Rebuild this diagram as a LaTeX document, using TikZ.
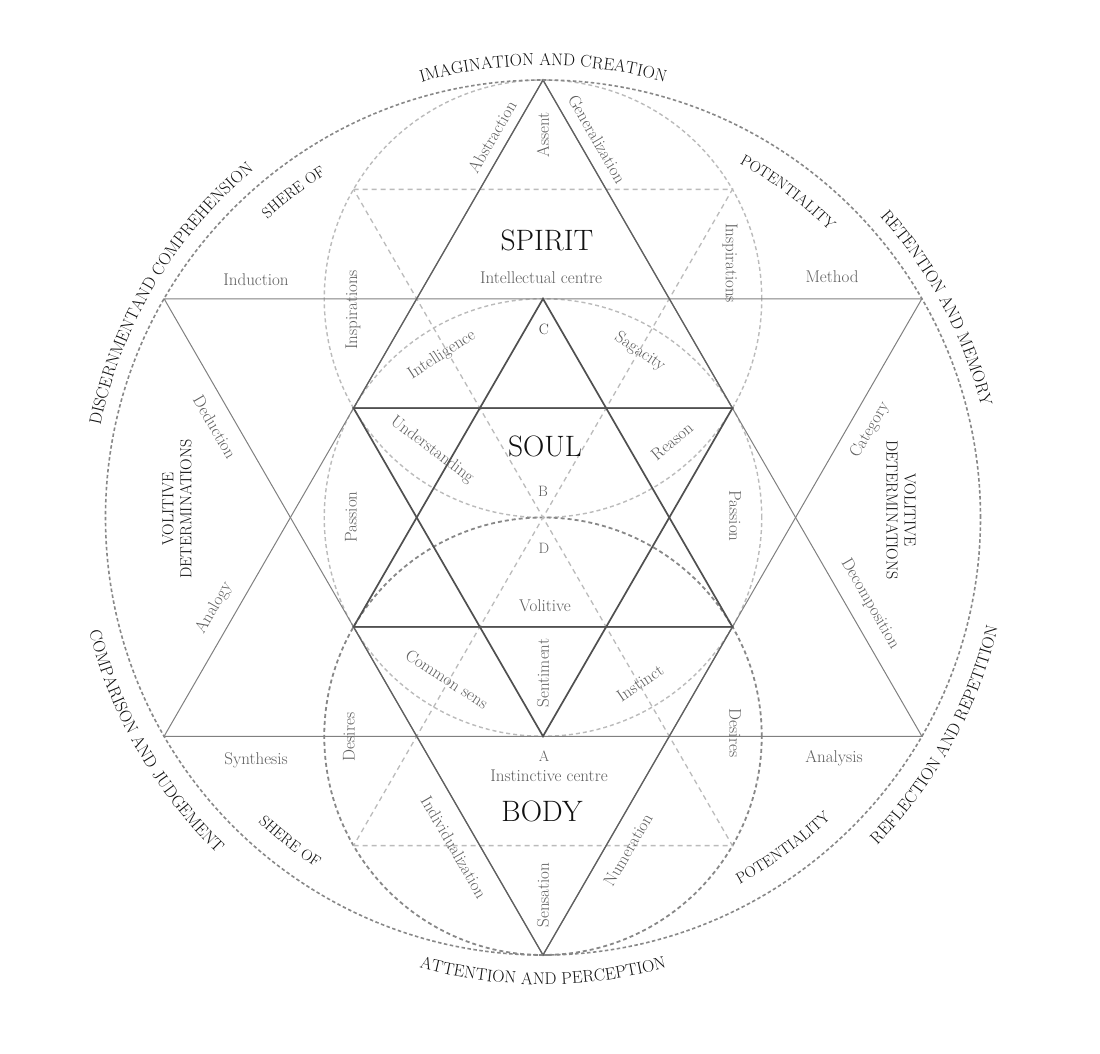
\documentclass[tikz,border=0pt]{standalone}
\usepackage{fontspec}
\usepackage{tikz}
\usetikzlibrary{decorations.text}
\definecolor{inkGray}{HTML}{5E5E5E}
\definecolor{lineGray}{HTML}{808080}
\definecolor{darkLine}{HTML}{505050}
\definecolor{ringGray}{HTML}{888888}
\definecolor{paleGray}{HTML}{BBBBBB}
\definecolor{capsBlack}{HTML}{111111}
\newcommand{\ringfont}{\fontsize{17}{19}\selectfont\color{capsBlack}}
\newcommand{\innerringfont}{\fontsize{15.5}{17}\selectfont\color{capsBlack}}

\begin{document}
\begin{tikzpicture}[x=1pt, y=1pt]
  \tikzset{
    bigstar/.style={draw=lineGray, line width=1pt},
    tristroke/.style={draw=darkLine!90, line width=1.3pt},
    soulstar/.style={draw=darkLine, line width=1.7pt},
    outerring/.style={draw=ringGray, line width=1.6pt, dash pattern=on 3.5pt off 2.5pt},
    palering/.style={draw=paleGray, line width=1.4pt, dash pattern=on 4pt off 3pt},
    bodyring/.style={draw=ringGray, line width=1.8pt, dash pattern=on 4pt off 3pt},
    paletri/.style={draw=paleGray, line width=1.3pt, dash pattern=on 5pt off 4pt},
    word/.style={text=inkGray, font=\fontsize{17}{19}\selectfont, inner sep=0pt},
    centreword/.style={text=capsBlack, font=\fontsize{29.5}{32}\selectfont, inner sep=0pt},
    vertexletter/.style={text=inkGray, font=\fontsize{15}{17}\selectfont, inner sep=0pt},
    volword/.style={text=capsBlack, font=\fontsize{16}{18}\selectfont, align=center, inner sep=0pt},
    ringtext/.style={decorate, decoration={text along path, text align=center, text={|\ringfont|#1}}},
    innerringtext/.style={decorate, decoration={text along path, text align=center, text={|\innerringfont|#1}}},
  }
  % Canvas: 1pt per pixel, origin at the centre of the great circle
  \useasboundingbox[fill=white] (-543,-535.5) rectangle (557,517.5);

  % Points of the figure
  \coordinate (O) at (0,0);
  \coordinate (top) at (90:437.5);
  \coordinate (bot) at (270:437.5);
  \coordinate (upl) at (150:437.5);
  \coordinate (upr) at (30:437.5);
  \coordinate (lol) at (210:437.5);
  \coordinate (lor) at (330:437.5);
  \coordinate (C) at (90:218.75);
  \coordinate (A) at (270:218.75);
  \coordinate (hul) at (150:218.75);
  \coordinate (hur) at (30:218.75);
  \coordinate (hll) at (210:218.75);
  \coordinate (hlr) at (330:218.75);
  \coordinate (spiritc) at (0,218.75);
  \coordinate (bodyc) at (0,-218.75);
  \coordinate (spl) at (-189.44,328.13);
  \coordinate (spr) at (189.44,328.13);
  \coordinate (bdl) at (-189.44,-328.13);
  \coordinate (bdr) at (189.44,-328.13);

  % Dashed circles and dashed triangles
  \draw[palering] (O) circle[radius=218.75];
  \draw[palering] (spiritc) circle[radius=218.75];
  \draw[bodyring] (bodyc) circle[radius=218.75];
  \draw[paletri] (spl) -- (spr) -- (O) -- cycle;
  \draw[paletri] (bdl) -- (bdr) -- (O) -- cycle;

  % Great star
  \draw[bigstar] (top) -- (lol) -- (lor) -- cycle;
  \draw[bigstar] (bot) -- (upl) -- (upr) -- cycle;

  % Spirit and body triangles
  \draw[tristroke] (top) -- (hul) -- (hur) -- cycle;
  \draw[tristroke] (bot) -- (hll) -- (hlr) -- cycle;

  % Soul star
  \draw[soulstar] (C) -- (hll) -- (hlr) -- cycle;
  \draw[soulstar] (A) -- (hul) -- (hur) -- cycle;

  % Great circle
  \draw[outerring] (O) circle[radius=437.5];

  % Texts round the circle
  \path[ringtext={IMAGINATION AND CREATION}] (125:452) arc[start angle=125, end angle=55, radius=452];
  \path[ringtext={DISCERNMENTAND COMPREHENSION}] (186:452) arc[start angle=186, end angle=112, radius=452];
  \path[ringtext={RETENTION AND MEMORY}] (63:452) arc[start angle=63, end angle=-7, radius=452];
  \path[innerringtext={SHERE OF}] (152:406) arc[start angle=152, end angle=103, radius=406];
  \path[innerringtext={POTENTIALITY}] (78:405) arc[start angle=78, end angle=28, radius=405];
  \path[ringtext={ATTENTION AND PERCEPTION}] (-125:467) arc[start angle=-125, end angle=-55, radius=467];
  \path[ringtext={REFLECTION AND REPETITION}] (-64:468) arc[start angle=-64, end angle=6, radius=468];
  \path[ringtext={COMPARISON AND JUDGEMENT}] (-185:468) arc[start angle=-185, end angle=-115, radius=468];
  \path[innerringtext={POTENTIALITY}] (-79:416) arc[start angle=-79, end angle=-29, radius=416];
  \path[innerringtext={SHERE OF}] (-153:417) arc[start angle=-153, end angle=-103, radius=417];

  % Centres
  \node[centreword] (spirit) at (4,277.5) {SPIRIT};
  \node[word] (intellectual) at (-2,240) {Intellectual centre};
  \node[vertexletter, text=capsBlack!85] (labC) at (1,188.5) {C};
  \node[centreword] (soul) at (2,71.5) {SOUL};
  \node[vertexletter] (labB) at (0,26.5) {B};
  \node[vertexletter] (labD) at (1,-30.5) {D};
  \node[word] (volitive) at (2,-88.5) {Volitive};
  \node[vertexletter] (labA) at (1,-238.5) {A};
  \node[word] (instinctive) at (6,-258.5) {Instinctive centre};
  \node[centreword] (body) at (-1,-293.5) {BODY};

  % Words of the spirit triangle
  \node[word, rotate=90] (assent) at (0,382.5) {Assent};
  \node[word, rotate=60] (abstraction) at (-51,380.5) {Abstraction};
  \node[word, rotate=-60] (generalization) at (54,378.5) {Generalization};
  \node[word, rotate=90] (inspirL) at (-190,207.5) {Inspirations};
  \node[word, rotate=-90] (inspirR) at (187,254.5) {Inspirations};
  \node[word] (induction) at (-287,237.5) {Induction};
  \node[word] (method) at (289,240.5) {Method};

  % Words of the soul star
  \node[word, rotate=33] (intelligence) at (-101,162.5) {Intelligence};
  \node[word, rotate=-34] (sagacity) at (97,165.5) {Sagacity};
  \node[word, rotate=-37] (understanding) at (-111,67.5) {Understanding};
  \node[word, rotate=40] (reason) at (129,76.5) {Reason};
  \node[word, rotate=90] (passionL) at (-192,0.5) {Passion};
  \node[word, rotate=-90] (passionR) at (192,1.5) {Passion};
  \node[word, rotate=-33] (commonsens) at (-96,-161.5) {Common sens};
  \node[word, rotate=34] (instinct) at (97,-165.5) {Instinct};
  \node[word, rotate=90] (sentiment) at (0,-155.5) {Sentiment};

  % Side triangles
  \node[word, rotate=-60] (deduction) at (-328,90.5) {Deduction};
  \node[word, rotate=60] (analogy) at (-329,-90.5) {Analogy};
  \node[word, rotate=60] (category) at (327,87.5) {Category};
  \node[word, rotate=-60] (decomposition) at (327,-86.5) {Decomposition};
  \node[volword, rotate=90] (volitL) at (-366,8.5) {VOLITIVE\\DETERMINATIONS};
  \node[volword, rotate=-90] (volitR) at (358,7.5) {VOLITIVE\\DETERMINATIONS};

  % Words of the body triangle
  \node[word, rotate=90] (desiresL) at (-194,-219.5) {Desires};
  \node[word, rotate=-90] (desiresR) at (192,-215.5) {Desires};
  \node[word] (synthesis) at (-287,-242.5) {Synthesis};
  \node[word] (analysis) at (291,-240.5) {Analysis};
  \node[word, rotate=-60] (individual) at (-89,-329.5) {Individualization};
  \node[word, rotate=60] (numeration) at (85,-332.5) {Numeration};
  \node[word, rotate=90] (sensation) at (0,-377.5) {Sensation};
\end{tikzpicture}
\end{document}
